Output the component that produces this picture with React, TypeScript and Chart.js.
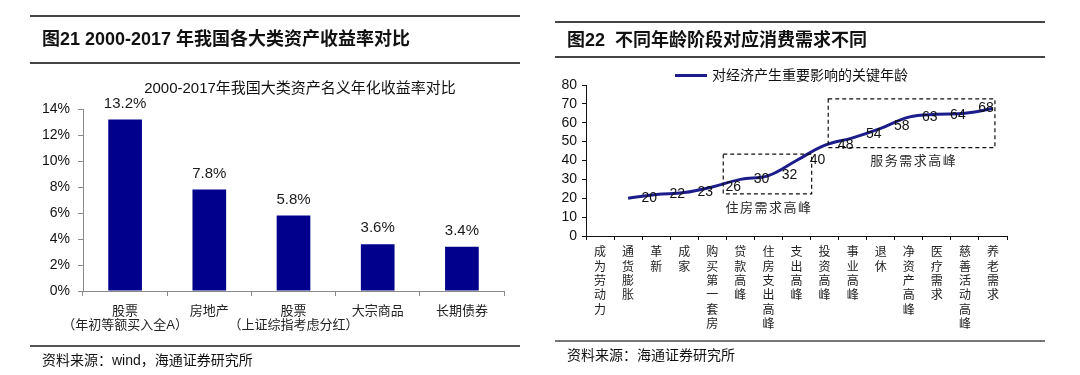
import React, { useEffect, useRef } from 'react';
import { Chart, registerables } from 'chart.js';

Chart.register(...registerables);

// ---------- data: figure 21 ----------
const assetCategories: (string | string[])[] = [
  ['股票', '（年初等额买入全A）'],
  '房地产',
  ['股票', '（上证综指考虑分红）'],
  '大宗商品',
  '长期债券',
];
const assetReturns = [13.2, 7.8, 5.8, 3.6, 3.4];
const returnAxisMin = 0;
const returnAxisMax = 14;
const returnAxisStep = 2;

// ---------- data: figure 22 ----------
const lifeStages = [
  '成为劳动力', '通货膨胀', '革新', '成家', '购买第一套房', '贷款高峰', '住房支出高峰',
  '支出高峰', '投资高峰', '事业高峰', '退休', '净资产高峰', '医疗需求', '慈善活动高峰', '养老需求',
];
const curveValues: (number | null)[] = [null, 20, 22, 23, 26, 30, 32, 40, 48, 52, 57, 63, 64.5, 65, 67.5];
const keyAges = [20, 22, 23, 26, 30, 32, 40, 48, 54, 58, 63, 64, 68];
const keyAgeFirstStage = 2;
const ageAxisMin = 0;
const ageAxisMax = 80;
const ageAxisStep = 10;
const zoneNames = ['住房需求高峰', '服务需求高峰'];
const zoneStageFrom = [4.39, 8.13];
const zoneStageTo = [7.54, 14.07];
const zoneAgeLow = [22.3, 46.8];
const zoneAgeHigh = [43.4, 72.6];
const zoneTextStage = [6.02, 11.18];
const zoneTextAge = [14.7, 39.4];
const seriesName = '对经济产生重要影响的关键年龄';

const FONT = "'Liberation Sans', 'Noto Sans CJK SC', sans-serif";
const BAR_COLOR = '#00008c';
const LINE_COLOR = '#1c1c8a';

const barLabelPlugin = {
  id: 'barLabels',
  afterDatasetsDraw(chart: any) {
    const ctx = chart.ctx;
    const meta = chart.getDatasetMeta(0);
    ctx.save();
    ctx.font = `15px ${FONT}`;
    ctx.fillStyle = '#1a1a1a';
    ctx.textAlign = 'center';
    ctx.textBaseline = 'middle';
    meta.data.forEach((bar: any, i: number) => {
      ctx.fillText(assetReturns[i].toFixed(1) + '%', bar.x, bar.y - 16);
    });
    ctx.restore();
  },
};

const ageAnnotationPlugin = {
  id: 'ageAnnotations',
  afterDatasetsDraw(chart: any) {
    const ctx = chart.ctx;
    const xs = chart.scales.x;
    const ys = chart.scales.y;
    ctx.save();
    ctx.strokeStyle = '#111';
    ctx.lineWidth = 1.2;
    ctx.setLineDash([4, 3]);
    zoneNames.forEach((_, i) => {
      const x0 = xs.getPixelForValue(zoneStageFrom[i]);
      const x1 = xs.getPixelForValue(zoneStageTo[i]);
      const y0 = ys.getPixelForValue(zoneAgeHigh[i]);
      const y1 = ys.getPixelForValue(zoneAgeLow[i]);
      ctx.strokeRect(x0, y0, x1 - x0, y1 - y0);
    });
    ctx.setLineDash([]);
    ctx.font = `13px ${FONT}`;
    (ctx as any).letterSpacing = '1.5px';
    ctx.fillStyle = '#2a2a2a';
    ctx.textAlign = 'center';
    ctx.textBaseline = 'middle';
    zoneNames.forEach((name, i) => {
      ctx.fillText(name, xs.getPixelForValue(zoneTextStage[i]), ys.getPixelForValue(zoneTextAge[i]));
    });
    (ctx as any).letterSpacing = '0px';
    ctx.font = `14px ${FONT}`;
    ctx.fillStyle = '#111';
    keyAges.forEach((age, i) => {
      ctx.fillText(String(age), xs.getPixelForValue(keyAgeFirstStage + i) - 7, ys.getPixelForValue(age));
    });
    ctx.restore();
  },
};

function ReturnChart() {
  const ref = useRef<HTMLCanvasElement | null>(null);
  useEffect(() => {
    if (!ref.current) return;
    const chart = new Chart(ref.current, {
      type: 'bar',
      data: {
        labels: assetCategories as any,
        datasets: [
          {
            data: assetReturns,
            backgroundColor: BAR_COLOR,
            borderWidth: 0,
            barPercentage: 0.4,
            categoryPercentage: 1,
          },
        ],
      },
      options: {
        animation: false,
        responsive: false,
        maintainAspectRatio: false,
        layout: { padding: { left: 43, right: 36, top: 109, bottom: 24 } },
        plugins: { legend: { display: false }, tooltip: { enabled: false }, title: { display: false } },
        scales: {
          x: {
            offset: true,
            grid: { display: true, drawOnChartArea: false, drawTicks: true, tickLength: 5, color: '#8a8a8a', offset: true },
            border: { display: true, color: '#8a8a8a', width: 1 },
            ticks: { font: { family: FONT, size: 13, lineHeight: 1.08 }, color: '#222', padding: 8, maxRotation: 0, autoSkip: false },
            afterFit: (s: any) => { s.height = 60; },
          },
          y: {
            min: returnAxisMin,
            max: returnAxisMax,
            ticks: {
              stepSize: returnAxisStep,
              autoSkip: false,
              callback: (v: any) => v + '%',
              font: { family: FONT, size: 14 },
              color: '#111',
              padding: 8,
            },
            grid: { display: true, drawOnChartArea: false, drawTicks: true, tickLength: 5, color: '#8a8a8a' },
            border: { display: true, color: '#8a8a8a', width: 1 },
            afterFit: (s: any) => { s.width = 40; },
          },
        },
      },
      plugins: [barLabelPlugin],
    });
    return () => chart.destroy();
  }, []);
  return <canvas ref={ref} width={540} height={375} style={{ position: 'absolute', left: 0, top: 0, width: 540, height: 375 }} />;
}

function AgeChart() {
  const ref = useRef<HTMLCanvasElement | null>(null);
  useEffect(() => {
    if (!ref.current) return;
    const chart = new Chart(ref.current, {
      type: 'line',
      data: {
        labels: lifeStages.map((s) => s.split('')),
        datasets: [
          {
            label: seriesName,
            data: curveValues,
            borderColor: LINE_COLOR,
            borderWidth: 3,
            pointRadius: 0,
            tension: 0.4,
            fill: false,
            clip: false as any,
          },
        ],
      },
      options: {
        animation: false,
        responsive: false,
        maintainAspectRatio: false,
        layout: { padding: { left: 6, right: 73, top: 85, bottom: 39 } },
        plugins: { legend: { display: false }, tooltip: { enabled: false } },
        scales: {
          x: {
            offset: true,
            grid: { display: true, drawOnChartArea: false, drawTicks: true, tickLength: 4, color: '#111', offset: true },
            border: { display: true, color: '#111', width: 1 },
            ticks: { font: { family: FONT, size: 12, lineHeight: 1.19 }, color: '#222', padding: 6, maxRotation: 0, autoSkip: false },
            afterFit: (s: any) => { s.height = 100; },
          },
          y: {
            min: ageAxisMin,
            max: ageAxisMax,
            ticks: { stepSize: ageAxisStep, autoSkip: false, font: { family: FONT, size: 14 }, color: '#111', padding: 5 },
            grid: { display: true, drawOnChartArea: false, drawTicks: true, tickLength: 4, color: '#111' },
            border: { display: true, color: '#111', width: 1 },
            afterFit: (s: any) => { s.width = 40; },
          },
        },
      },
      plugins: [ageAnnotationPlugin],
    });
    return () => chart.destroy();
  }, []);
  return <canvas ref={ref} width={540} height={375} style={{ position: 'absolute', left: 540, top: 0, width: 540, height: 375 }} />;
}

const rule = (left: number, top: number, width: number, color = '#444', h = 1.5): React.CSSProperties => ({
  position: 'absolute', left, top, width, height: h, background: color,
});

export default function App() {
  const abs = (left: number, top: number, extra: React.CSSProperties = {}): React.CSSProperties => ({
    position: 'absolute', left, top, whiteSpace: 'pre', color: '#111', ...extra,
  });
  return (
    <div style={{ position: 'fixed', left: 0, top: 0, width: 1080, height: 375, background: '#fff', fontFamily: FONT, overflow: 'hidden' }}>
      <ReturnChart />
      <AgeChart />
      {/* left panel */}
      <div style={rule(30, 15, 490)} />
      <div style={abs(42, 27, { fontSize: 18, fontWeight: 700, lineHeight: '24px' })}>图21 2000-2017 年我国各大类资产收益率对比</div>
      <div style={rule(30, 62, 490)} />
      <div style={abs(300, 78, { fontSize: 15, lineHeight: '20px', transform: 'translateX(-50%)' })}>2000-2017年我国大类资产名义年化收益率对比</div>
      <div style={rule(30, 345, 490, '#555')} />
      <div style={abs(42, 351, { fontSize: 14, lineHeight: '18px' })}>资料来源：wind，海通证券研究所</div>
      {/* right panel */}
      <div style={rule(555, 21, 490)} />
      <div style={abs(567, 28, { fontSize: 18, fontWeight: 700, lineHeight: '24px' })}>图22  不同年龄阶段对应消费需求不同</div>
      <div style={rule(555, 56, 490)} />
      <div style={abs(675, 66, { fontSize: 14, lineHeight: '18px', display: 'flex', alignItems: 'center' })}>
        <span style={{ display: 'inline-block', width: 32, height: 3, background: LINE_COLOR, marginRight: 5 }} />
        <span>{seriesName}</span>
      </div>
      <div style={rule(555, 340, 490, '#777', 2)} />
      <div style={abs(567, 346, { fontSize: 14, lineHeight: '18px' })}>资料来源：海通证券研究所</div>
    </div>
  );
}
